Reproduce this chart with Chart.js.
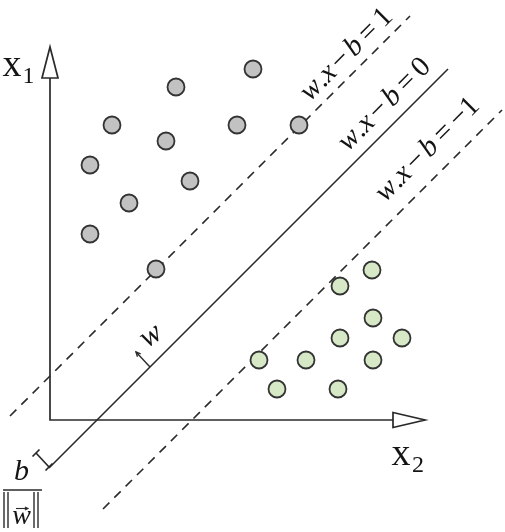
<!DOCTYPE html>
<html><head><meta charset="utf-8">
<script src="https://cdn.jsdelivr.net/npm/chart.js@4/dist/chart.umd.min.js"></script>
<style>html,body{margin:0;padding:0;background:#fff;}canvas{display:block;}</style>
</head><body>
<canvas id="c" width="505" height="532"></canvas>
<script>
// ---- data (x2 = horizontal axis, x1 = vertical axis) ----
const classA_x2 = [12.6, 20.3, 6.2, 18.7, 24.9, 11.6, 4.0, 14.0, 7.9, 4.0, 10.6];
const classA_x1 = [33.3, 35.1, 29.5, 29.5, 29.5, 27.9, 25.5, 23.9, 21.7, 18.6, 15.1];
const classB_x2 = [32.2, 29.0, 32.3, 29.0, 35.2, 20.9, 25.6, 32.3, 22.7, 28.8];
const classB_x1 = [15.0, 13.4, 10.2, 8.2, 8.2, 6.0, 6.0, 6.0, 3.1, 3.1];
// hyperplanes: x2 - x1 = offset
const planeLabels = ['w.x−b=1', 'w.x−b=0', 'w.x−b=−1'];
const planeOffsets = [-4.4, 4.7, 14.2];
const planeStartX2 = [-4.0, -0.1, 5.3];
const planeEndX2 = [36.0, 39.8, 45.2];
const axisNames = ['x', 'x'];
const axisSubscripts = ['1', '2'];
const axisLength = [34.2, 34.3];

// ---- layout of annotations (data units) ----
const planeLabelPos = [[30.2, 36.0], [34.0, 31.0], [38.3, 26.5]];
const axisLabelPos = [[-4.75, 34.4], [34.15, -4.5]];
const axisSubPos = [[-2.75, 33.7], [36.2, -5.2]];

const INK = '#2a2a2a';
const TXT = '#141414';
const SERIF = '"Liberation Serif", "Times New Roman", serif';

const pts = (xs, ys) => xs.map((x, i) => ({x, y: ys[i]}));

const datasets = [
  {label: 'class A', data: pts(classA_x2, classA_x1), backgroundColor: '#c2c2c2', borderColor: '#333',
   borderWidth: 1.8, pointRadius: 8.5, order: 0, clip: false},
  {label: 'class B', data: pts(classB_x2, classB_x1), backgroundColor: '#d6e8c6', borderColor: '#333',
   borderWidth: 1.8, pointRadius: 8.5, order: 0, clip: false},
  {label: 'axes', type: 'line', showLine: true,
   data: [{x: 0, y: axisLength[0]}, {x: 0, y: 0}, {x: axisLength[1], y: 0}],
   borderColor: INK, borderWidth: 1.7, pointRadius: 0, order: 2, borderJoinStyle: 'miter', clip: false}
];
planeOffsets.forEach((k, i) => {
  datasets.push({
    label: planeLabels[i], type: 'line', showLine: true,
    data: [{x: planeStartX2[i], y: planeStartX2[i] - k}, {x: planeEndX2[i], y: planeEndX2[i] - k}],
    borderColor: INK, borderWidth: 1.6, pointRadius: 0, order: 1, clip: false,
    borderDash: k === planeOffsets[1] ? [] : [9, 7]
  });
});

function drawMath(ctx, text, size) {
  const segs = [];
  const chars = [...text];
  chars.forEach((ch, i) => {
    const italic = /[a-z]/.test(ch);
    let pad = 0;
    if (ch === '=') pad = 0.18 * size;
    if (ch === '−' && i > 0 && /[a-z]/.test(chars[i - 1])) pad = 0.12 * size;
    ctx.font = (italic ? 'italic ' : '') + size + 'px ' + SERIF;
    segs.push({ch, italic, pad, w: ctx.measureText(ch).width});
  });
  const total = segs.reduce((s, g) => s + g.w + 2 * g.pad, 0);
  let x = -total / 2;
  segs.forEach(g => {
    ctx.font = (g.italic ? 'italic ' : '') + size + 'px ' + SERIF;
    x += g.pad;
    ctx.fillText(g.ch, x, 0);
    x += g.w + g.pad;
  });
}

const decor = {
  id: 'decor',
  afterDatasetsDraw(chart) {
    const ctx = chart.ctx, sx = chart.scales.x, sy = chart.scales.y;
    const P = (x, y) => [sx.getPixelForValue(x), sy.getPixelForValue(y)];
    ctx.save();
    ctx.strokeStyle = INK; ctx.fillStyle = TXT; ctx.lineWidth = 1.7;
    const tri = (a, b, c) => {
      ctx.beginPath(); ctx.moveTo(...P(...a)); ctx.lineTo(...P(...b)); ctx.lineTo(...P(...c)); ctx.closePath();
      ctx.fillStyle = '#fff'; ctx.fill(); ctx.stroke(); ctx.fillStyle = TXT;
    };
    tri([-0.8, axisLength[0]], [0.8, axisLength[0]], [0, 37.3]);
    tri([axisLength[1], 0.75], [axisLength[1], -0.75], [37.5, 0]);
    ctx.textBaseline = 'alphabetic'; ctx.textAlign = 'left';
    axisNames.forEach((n, i) => {
      ctx.font = '38px ' + SERIF; ctx.fillText(n, ...P(...axisLabelPos[i]));
      ctx.font = '24px ' + SERIF; ctx.fillText(axisSubscripts[i], ...P(...axisSubPos[i]));
    });
    planeLabels.forEach((t, i) => {
      ctx.save(); ctx.translate(...P(...planeLabelPos[i])); ctx.rotate(-Math.PI / 4);
      drawMath(ctx, t, 29); ctx.restore();
    });
    const a0 = P(10, 5.3), a1 = P(8.6, 6.8);
    ctx.lineWidth = 1.4;
    ctx.beginPath(); ctx.moveTo(...a0); ctx.lineTo(...a1); ctx.stroke();
    const ang = Math.atan2(a1[1] - a0[1], a1[0] - a0[0]);
    const head = (pt, an, len) => {
      ctx.beginPath();
      ctx.moveTo(pt[0] - len * Math.cos(an - 0.45), pt[1] - len * Math.sin(an - 0.45));
      ctx.lineTo(pt[0], pt[1]);
      ctx.lineTo(pt[0] - len * Math.cos(an + 0.45), pt[1] - len * Math.sin(an + 0.45));
      ctx.stroke();
    };
    head(a1, ang, 5);
    ctx.save(); ctx.translate(...P(10.1, 8.4)); ctx.rotate(-0.6);
    ctx.font = 'italic 31px ' + SERIF; ctx.textAlign = 'center'; ctx.textBaseline = 'middle';
    ctx.fillText('w', 0, 0); ctx.restore();
    const b0 = P(-1.4, -3.3), b1 = P(-0.1, -4.7);
    ctx.lineWidth = 1.7;
    ctx.beginPath(); ctx.moveTo(...b0); ctx.lineTo(...b1); ctx.stroke();
    [b0, b1].forEach(p => {
      ctx.beginPath(); ctx.moveTo(p[0] - 3.5, p[1] + 3.5); ctx.lineTo(p[0] + 3.5, p[1] - 3.5); ctx.stroke();
    });
    ctx.textAlign = 'center'; ctx.textBaseline = 'alphabetic';
    ctx.font = 'italic 30px ' + SERIF; ctx.fillText('b', ...P(-2.85, -6.0));
    ctx.lineWidth = 1.4;
    ctx.beginPath(); ctx.moveTo(...P(-4.7, -7.0)); ctx.lineTo(...P(-0.8, -7.0)); ctx.stroke();
    [-4.6, -4.2, -1.6, -1.2].forEach(x => {
      ctx.beginPath(); ctx.moveTo(...P(x, -7.2)); ctx.lineTo(...P(x, -10.8)); ctx.stroke();
    });
    ctx.font = 'italic 28px ' + SERIF; ctx.fillText('w', ...P(-2.85, -10.35));
    const w0 = P(-3.4, -8.85), w1 = P(-2.2, -8.85);
    ctx.lineWidth = 1.1;
    ctx.beginPath(); ctx.moveTo(...w0); ctx.lineTo(...w1); ctx.stroke();
    head(w1, 0, 3.5);
    ctx.restore();
  }
};

function build() {
  new Chart(document.getElementById('c'), {
    type: 'scatter',
    data: {datasets},
    options: {
      responsive: false, animation: false, devicePixelRatio: 1,
      layout: {padding: 0, autoPadding: false},
      plugins: {legend: {display: false}, tooltip: {enabled: false}},
      scales: {
        x: {type: 'linear', min: -5, max: 45.5, display: false},
        y: {type: 'linear', min: -11.2, max: 42, display: false}
      }
    },
    plugins: [decor]
  });
}
Promise.all([
  document.fonts.load('27px "Liberation Serif"'),
  document.fonts.load('italic 27px "Liberation Serif"')
]).then(build, build);
</script>
</body></html>
